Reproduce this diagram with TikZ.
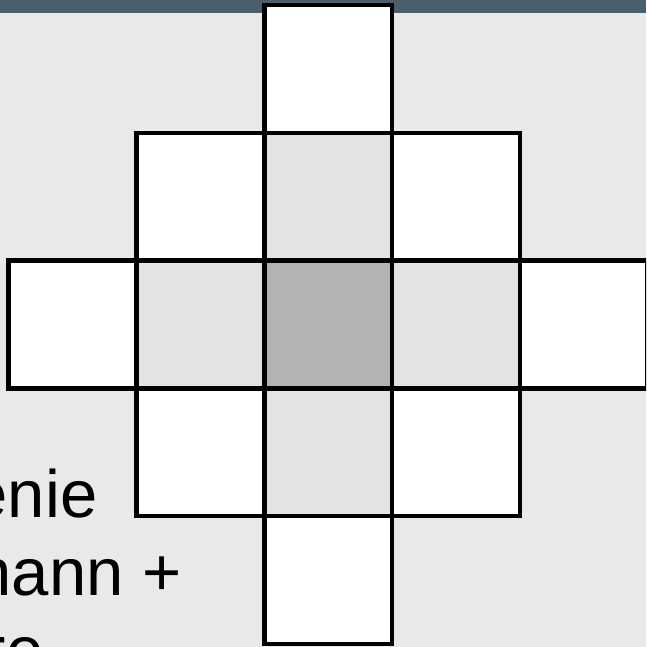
\documentclass[tikz,border=0pt]{standalone}
\usepackage{fontspec}
\setmainfont{Liberation Sans}
\definecolor{bargray}{RGB}{74,95,110}
\definecolor{bggray}{RGB}{233,233,233}
\definecolor{nbgray}{RGB}{227,227,227}
\definecolor{midgray}{RGB}{179,179,179}
\usetikzlibrary{positioning}

\tikzset{
  cell/.style={rectangle,minimum size=3.834cm,inner sep=0pt,outer sep=0pt,fill=white},
  cellline/.style={line width=3.84pt,black},
  lbl/.style={font=\fontsize{57.2}{66}\selectfont,inner sep=0pt,anchor=base east}
}

\begin{document}
\begin{tikzpicture}[x=0.03cm,y=-0.03cm]
  \useasboundingbox (0,0) rectangle (646,647);
  \clip (0,0) rectangle (646,647);
  \fill[bggray] (0,0) rectangle (646,647);
  \fill[bargray] (0,0) rectangle (646,12.7);
  % centre cell and its neighbours
  \node[cell,fill=midgray] (c) at (328.2,324.5) {};
  \node[cell,fill=nbgray,above=0pt of c] (n) {};
  \node[cell,fill=nbgray,below=0pt of c] (s) {};
  \node[cell,fill=nbgray,left=0pt of c] (w) {};
  \node[cell,fill=nbgray,right=0pt of c] (e) {};
  \node[cell,above=0pt of n] (nn) {};
  \node[cell,below=0pt of s] (ss) {};
  \node[cell,left=0pt of w] (ww) {};
  \node[cell,right=0pt of e] (ee) {};
  \node[cell,left=0pt of n] (nw) {};
  \node[cell,right=0pt of n] (ne) {};
  \node[cell,left=0pt of s] (sw) {};
  \node[cell,right=0pt of s] (se) {};
  \foreach \k in {c,n,s,w,e,nn,ss,ww,ee,nw,ne,sw,se}
    \draw[cellline] (\k.south west) rectangle (\k.north east);
  % text cut off at the left
  \node[lbl] (t1) at (97.6,517) {enie};
  \node[lbl] (t2) at (181.7,595) {nann +};
  \node[lbl] (t3) at (43.6,673) {re};
\end{tikzpicture}
\end{document}
